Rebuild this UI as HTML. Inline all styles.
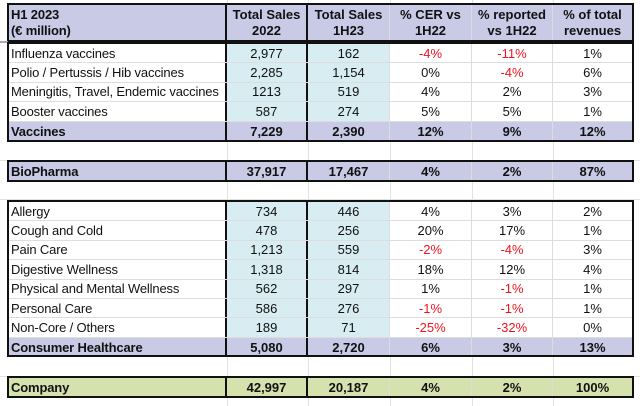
<!DOCTYPE html>
<html><head><meta charset="utf-8"><style>
body{margin:0;width:640px;height:406px;background:#fff;position:relative;overflow:hidden;font-family:"Liberation Sans",Arial,sans-serif;font-size:13px;color:#111}
.b{position:absolute;left:7px;width:627px;border:2px solid #111;box-sizing:border-box;background:#fff;overflow:hidden}
.r{display:flex;box-sizing:border-box;border-bottom:1px solid #ddd}
.r:last-child{border-bottom:none}
.r>div{box-sizing:border-box;display:flex;align-items:center;justify-content:center;border-right:1px solid #ddd;white-space:nowrap;min-width:0;flex:none;overflow:hidden}
.r>div:nth-child(1){width:218px;justify-content:flex-start;padding-left:2px;border-right:2px solid #111;letter-spacing:-0.15px}
.r>div:nth-child(2){width:81px;border-right:2px solid #111;background:#d8edf1}
.r>div:nth-child(3){width:82px;background:#d8edf1}
.r>div:nth-child(4){width:82px}
.r>div:nth-child(5){width:81px}
.r>div:nth-child(6){width:79px;border-right:none}
.s>div{background:#c8cae6 !important;font-weight:bold}
.g>div{background:#d5e2ad !important;font-weight:bold}
.h>div{background:#c8cae6 !important;font-weight:bold;text-align:center;line-height:16px}
.h>div:nth-child(1){text-align:left}
.n{color:#f0141e}
.gl{position:absolute;background:#e2e2e2}
</style></head><body>
<div class="gl" style="left:227px;top:0;width:1px;height:406px"></div>
<div class="gl" style="left:308px;top:0;width:1px;height:406px"></div>
<div class="gl" style="left:390px;top:0;width:1px;height:406px"></div>
<div class="gl" style="left:472px;top:0;width:1px;height:406px"></div>
<div class="gl" style="left:553px;top:0;width:1px;height:406px"></div>
<div class="gl" style="left:0;top:160px;width:640px;height:1px"></div>
<div class="gl" style="left:0;top:199px;width:640px;height:1px"></div>
<div class="gl" style="left:0;top:376px;width:640px;height:1px"></div>

<div class="b" style="top:3px;height:39px"><div class="r h" style="height:35px"><div>H1 2023<br>(€ million)</div><div>Total Sales<br>2022</div><div>Total Sales<br>1H23</div><div>% CER vs<br>1H22</div><div>% reported<br>vs 1H22</div><div>% of total<br>revenues</div></div></div>
<div style="position:absolute;left:0;top:41px;width:8px;height:2px;background:#aaa"></div>
<div class="b" style="top:42px;height:100px">
<div class="r" style="height:19.4px"><div>Influenza vaccines</div><div>2,977</div><div>162</div><div class="n">-4%</div><div class="n">-11%</div><div>1%</div></div>
<div class="r" style="height:19.4px"><div>Polio / Pertussis / Hib vaccines</div><div>2,285</div><div>1,154</div><div>0%</div><div class="n">-4%</div><div>6%</div></div>
<div class="r" style="height:19.4px"><div>Meningitis, Travel, Endemic vaccines</div><div>1213</div><div>519</div><div>4%</div><div>2%</div><div>3%</div></div>
<div class="r" style="height:19.4px"><div>Booster vaccines</div><div>587</div><div>274</div><div>5%</div><div>5%</div><div>1%</div></div>
<div class="r s" style="height:19.4px"><div>Vaccines</div><div>7,229</div><div>2,390</div><div>12%</div><div>9%</div><div>12%</div></div>
</div>
<div class="b" style="top:160px;height:22px"><div class="r s" style="height:18px"><div>BioPharma</div><div>37,917</div><div>17,467</div><div>4%</div><div>2%</div><div>87%</div></div></div>
<div class="b" style="top:200px;height:157px">
<div class="r" style="height:19.4px"><div>Allergy</div><div>734</div><div>446</div><div>4%</div><div>3%</div><div>2%</div></div>
<div class="r" style="height:19.4px"><div>Cough and Cold</div><div>478</div><div>256</div><div>20%</div><div>17%</div><div>1%</div></div>
<div class="r" style="height:19.4px"><div>Pain Care</div><div>1,213</div><div>559</div><div class="n">-2%</div><div class="n">-4%</div><div>3%</div></div>
<div class="r" style="height:19.4px"><div>Digestive Wellness</div><div>1,318</div><div>814</div><div>18%</div><div>12%</div><div>4%</div></div>
<div class="r" style="height:19.4px"><div>Physical and Mental Wellness</div><div>562</div><div>297</div><div>1%</div><div class="n">-1%</div><div>1%</div></div>
<div class="r" style="height:19.4px"><div>Personal Care</div><div>586</div><div>276</div><div class="n">-1%</div><div class="n">-1%</div><div>1%</div></div>
<div class="r" style="height:19.4px"><div>Non-Core / Others</div><div>189</div><div>71</div><div class="n">-25%</div><div class="n">-32%</div><div>0%</div></div>
<div class="r s" style="height:19.4px"><div>Consumer Healthcare</div><div>5,080</div><div>2,720</div><div>6%</div><div>3%</div><div>13%</div></div>
</div>
<div class="b" style="top:376px;height:22px"><div class="r g" style="height:18px"><div>Company</div><div>42,997</div><div>20,187</div><div>4%</div><div>2%</div><div>100%</div></div></div>
</body></html>
